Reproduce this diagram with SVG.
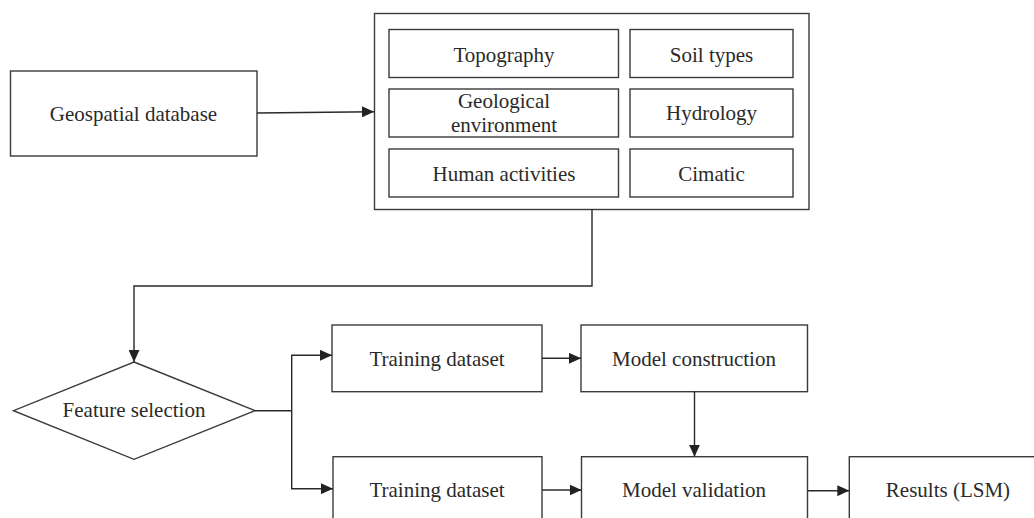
<svg xmlns="http://www.w3.org/2000/svg" width="1034" height="518" viewBox="0 0 1034 518">
<defs>
<marker id="arr" markerWidth="12" markerHeight="11" refX="12" refY="5.5" orient="auto" markerUnits="userSpaceOnUse">
<path d="M0,0 L12,5.5 L0,11 z" fill="#222"/>
</marker>
<style>
.box{fill:#fff;stroke:#3a3a3a;stroke-width:1.4}
.t{font-family:"Liberation Serif","Times New Roman",serif;font-size:21px;fill:#2a2a2a;text-anchor:middle}
.c{fill:none;stroke:#2a2a2a;stroke-width:1.4}
</style>
</defs>
<rect width="1034" height="518" fill="#fff"/>
<g id="geospatial">
<rect class="box" x="10.5" y="71" width="246.5" height="85"/>
<text class="t" x="133.5" y="121">Geospatial database</text>
</g>
<g id="factors">
<rect class="box" x="374.5" y="13.5" width="434.5" height="196"/>
</g>
<g id="topography">
<rect class="box" x="389" y="29.5" width="229.5" height="48"/>
<text class="t" x="504" y="61.5">Topography</text>
</g>
<g id="soil">
<rect class="box" x="630" y="29.5" width="163" height="48"/>
<text class="t" x="711.5" y="61.5">Soil types</text>
</g>
<g id="geological">
<rect class="box" x="389" y="89" width="229.5" height="48"/>
<text class="t" x="504" y="108">Geological</text>
<text class="t" x="504" y="131.5">environment</text>
</g>
<g id="hydrology">
<rect class="box" x="630" y="89" width="163" height="48"/>
<text class="t" x="711.5" y="119.5">Hydrology</text>
</g>
<g id="human">
<rect class="box" x="389" y="149" width="229.5" height="48"/>
<text class="t" x="504" y="181">Human activities</text>
</g>
<g id="climatic">
<rect class="box" x="630" y="149" width="163" height="48"/>
<text class="t" x="711.5" y="181">Cimatic</text>
</g>
<g id="feature">
<polygon class="box" points="134,362 255,410.7 134,459.3 13.5,410.7"/>
<text class="t" x="134" y="417">Feature selection</text>
</g>
<g id="train1">
<rect class="box" x="332" y="325" width="210" height="66.7"/>
<text class="t" x="437" y="366">Training dataset</text>
</g>
<g id="train2">
<rect class="box" x="333" y="456.7" width="209" height="80"/>
<text class="t" x="437" y="497">Training dataset</text>
</g>
<g id="construction">
<rect class="box" x="581" y="325" width="226.5" height="66.7"/>
<text class="t" x="694" y="366">Model construction</text>
</g>
<g id="validation">
<rect class="box" x="581.5" y="456.7" width="226" height="80"/>
<text class="t" x="694" y="497">Model validation</text>
</g>
<g id="results">
<rect class="box" x="849.3" y="456.7" width="200" height="80"/>
<text class="t" x="948" y="497">Results (LSM)</text>
</g>
<g id="connectors">
<path class="c" d="M257,113 L374,111.7" marker-end="url(#arr)"/>
<path class="c" d="M592,209.5 V286 H134 V362" marker-end="url(#arr)"/>
<path class="c" d="M255,410.7 H291.7"/>
<path class="c" d="M291.7,410.7 V355.3 H332" marker-end="url(#arr)"/>
<path class="c" d="M291.7,410.7 V488.7 H333" marker-end="url(#arr)"/>
<path class="c" d="M542,358.3 H581" marker-end="url(#arr)"/>
<path class="c" d="M542,490 H581.5" marker-end="url(#arr)"/>
<path class="c" d="M694.5,391.7 V456.7" marker-end="url(#arr)"/>
<path class="c" d="M807.5,490.7 H849.3" marker-end="url(#arr)"/>
</g>
</svg>
